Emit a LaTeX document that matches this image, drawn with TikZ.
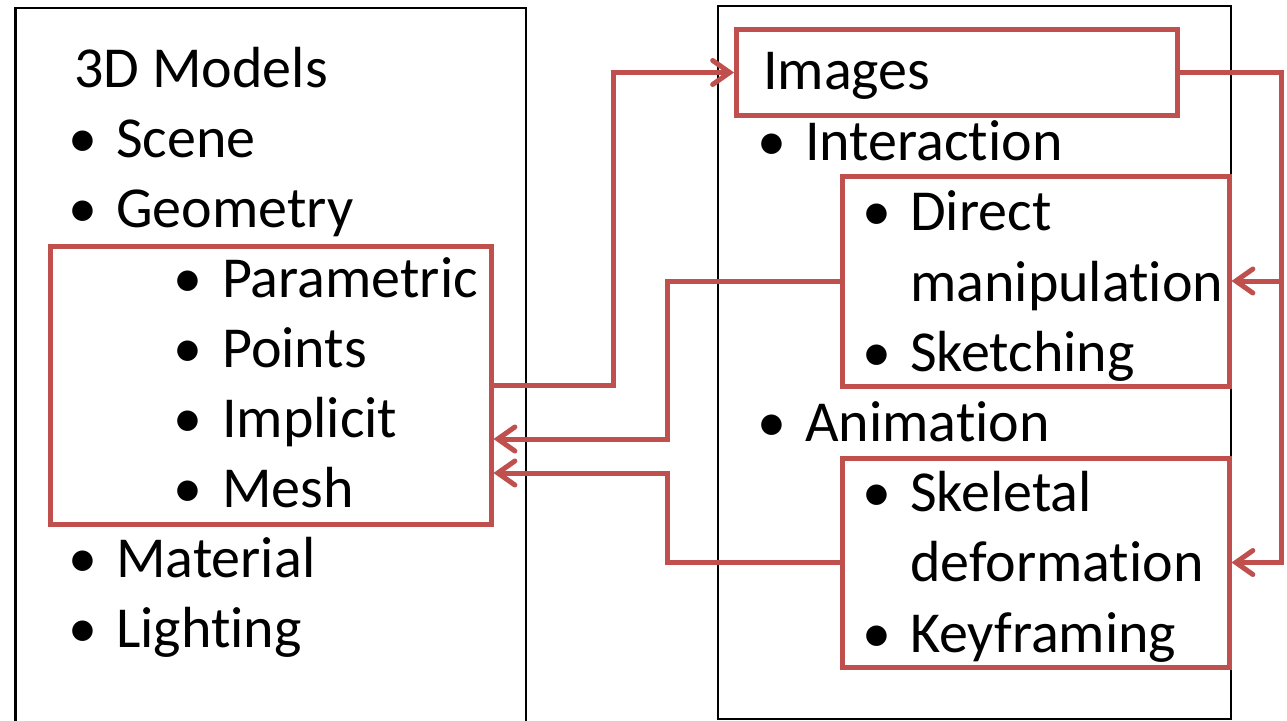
\documentclass[tikz,border=0pt]{standalone}
\usepackage{fontspec}
\setmainfont{Carlito}[Ligatures={NoCommon}]
\usetikzlibrary{arrows.meta,calc}
\definecolor{accent}{RGB}{192,80,77}
% keeps "t" and "i" as separate glyphs
\newcommand{\nolig}{\kern0pt{}}
\tikzset{
  txt/.style={inner sep=0pt, anchor=base west, font=\fontsize{58}{70}\selectfont},
  dot/.style={inner sep=0pt, anchor=base, font=\fontsize{58}{70}\selectfont},
  panel/.style={draw=black, line width=2.5pt},
  redbox/.style={draw=accent, line width=5pt, inner sep=0pt, rectangle},
  link/.style={draw=accent, line width=5pt, line join=miter,
    -{Straight Barb[length=17pt, width=24pt, line cap=round]}}
}
\begin{document}
\begin{tikzpicture}[x=1pt, y=-1pt]
\useasboundingbox (0,0) rectangle (1287,720);
\clip (0,0) rectangle (1287,720);
\fill[white] (0,0) rectangle (1287,720);

% outer panels
\draw[panel] (15.5,8) rectangle (526,760);
\draw[panel] (718,6) rectangle (1231,719);

% highlighted groups
\node[redbox, minimum width=441pt, minimum height=278pt] (geo) at (270.5,385) {};
\node[redbox, minimum width=441pt, minimum height=86pt] (img) at (957,72.5) {};
\node[redbox, minimum width=387pt, minimum height=210pt] (dm) at (1035.5,281) {};
\node[redbox, minimum width=387pt, minimum height=209pt] (sk) at (1035.5,562.5) {};

% left column
\node[txt] (t3d) at (74,87) {3D Models};
\node[dot] (b1) at (83,157) {•};
\node[txt] (tscene) at (116,157) {Scene};
\node[dot] (b2) at (83,227) {•};
\node[txt] (tgeom) at (116,227) {Geometry};
\node[dot] (b3) at (188,297) {•};
\node[txt] (tpar) at (222,297) {Parametric};
\node[dot] (b4) at (188,367) {•};
\node[txt] (tpts) at (222,367) {Points};
\node[dot] (b5) at (188,437) {•};
\node[txt] (timp) at (222,437) {Implicit};
\node[dot] (b6) at (188,507) {•};
\node[txt] (tmesh) at (222,507) {Mesh};
\node[dot] (b7) at (83,577) {•};
\node[txt] (tmat) at (116,577) {Material};
\node[dot] (b8) at (83,647) {•};
\node[txt] (tlight) at (116,647) {Light\nolig ing};

% right column
\node[txt] (timg) at (763,89) {Images};
\node[dot] (c1) at (772,160) {•};
\node[txt] (tint) at (805,160) {Interact\nolig ion};
\node[dot] (c2) at (877,230) {•};
\node[txt] (tdir) at (910,230) {Direct};
\node[txt] (tman) at (910,301) {manipulat\nolig ion};
\node[dot] (c3) at (877,371) {•};
\node[txt] (tsk) at (910,371) {Sketching};
\node[dot] (c4) at (772,441) {•};
\node[txt] (tani) at (805,441) {Animat\nolig ion};
\node[dot] (c5) at (877,511) {•};
\node[txt] (tskel) at (910,511) {Skeletal};
\node[txt] (tdef) at (910,581) {deformat\nolig ion};
\node[dot] (c6) at (877,652) {•};
\node[txt] (tkey) at (910,652) {Keyframing};

% connectors
\coordinate (upx) at (613,0);
\coordinate (rail) at (1281,0);
\coordinate (midx) at (667,0);
\coordinate (in1) at ($(geo.east)+(0,54)$);
\coordinate (in2) at ($(geo.east)+(0,88)$);

\draw[link] (geo.east) -- (upx |- geo.east) -- (upx |- img.west) -- (img.west);
\draw[link] (img.east) -- (rail |- img.east) -- (rail |- sk.east) -- (sk.east);
\draw[link] (rail |- dm.east) -- (dm.east);
\draw[link] (dm.west) -- (midx |- dm.west) -- (midx |- in1) -- (in1);
\draw[link] (sk.west) -- (midx |- sk.west) -- (midx |- in2) -- (in2);
\end{tikzpicture}
\end{document}
